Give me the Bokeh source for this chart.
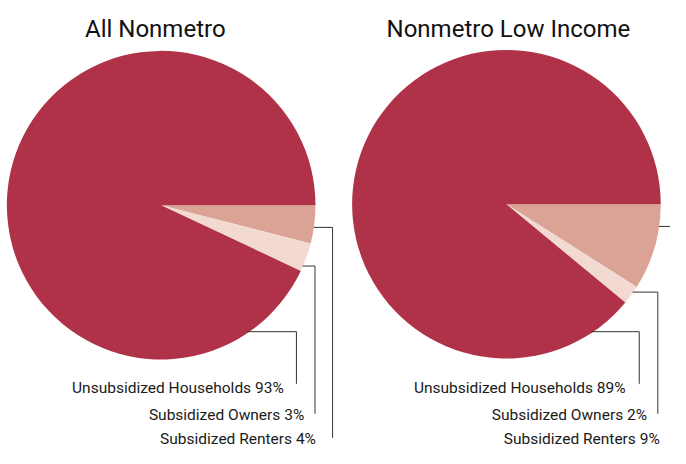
import numpy as np
from bokeh.plotting import figure
from bokeh.models import Range1d
from bokeh.core.properties import value
from bokeh.embed import file_html
from bokeh.resources import INLINE

# ---- data ----
categories = ["Subsidized Renters", "Subsidized Owners", "Unsubsidized Households"]
all_nonmetro = [4, 3, 93]
low_income = [9, 2, 89]
titles = ["All Nonmetro", "Nonmetro Low Income"]
colors = ["#DBA396", "#F2DAD3", "#B03248"]

# ---- layout (reference pixel coordinates, 686 x 464 canvas) ----
pies = [
    dict(values=all_nonmetro, title=titles[0], cx=164.5, cy=212, r=158, tx=158.5,
         leader_y=[235, 275, 343], vline_x=[340, 322, 303], bottom=[453, 428, 397],
         label_x=[323, 311, 290], label_y=[454, 429, 401]),
    dict(values=low_income, title=titles[1], cx=518, cy=211, r=158, tx=520,
         leader_y=[234, 302, 343], vline_x=[693, 673, 654], bottom=[453, 428, 397],
         label_x=[675, 662, 640], label_y=[454, 429, 401]),
]

FONT = value("Roboto")

p = figure(width=670, height=448, output_backend="svg", toolbar_location=None,
           x_range=Range1d(0, 686), y_range=Range1d(-464, 0),
           x_axis_location=None, y_axis_location=None, min_border=0)
p.grid.visible = False
p.outline_line_color = None
p.background_fill_color = "white"
p.border_fill_color = "white"

for pie in pies:
    vals = np.array(pie["values"], dtype=float)
    frac = vals / vals.sum()
    cum = np.concatenate([[0.0], np.cumsum(frac)])
    start = -2 * np.pi * cum[:-1]
    end = -2 * np.pi * cum[1:]
    p.wedge(x=pie["cx"], y=-pie["cy"], radius=pie["r"], start_angle=start, end_angle=end,
            direction="clock", fill_color=colors, line_color=None)

    xs, ys = [], []
    for ly, vx, b in zip(pie["leader_y"], pie["vline_x"], pie["bottom"]):
        ex = pie["cx"] + np.sqrt(pie["r"] ** 2 - (ly - pie["cy"]) ** 2)
        xs.append([ex, vx, vx])
        ys.append([-ly, -ly, -b])
    p.multi_line(xs=xs, ys=ys, line_color="#333333", line_width=1)

    labels = [f"{c} {v}%" for c, v in zip(categories, pie["values"])]
    p.text(x=pie["label_x"], y=[-v for v in pie["label_y"]], text=labels,
           text_align="right", text_baseline="alphabetic", text_font=FONT,
           text_font_size="15.5px", text_color="#1a1a1a")

    p.text(x=[pie["tx"]], y=[-29], text=[pie["title"]], text_align="center",
           text_baseline="alphabetic", text_font=FONT, text_font_size="24px",
           text_color="#111111")

open("out.html", "w").write(file_html(p, INLINE))
